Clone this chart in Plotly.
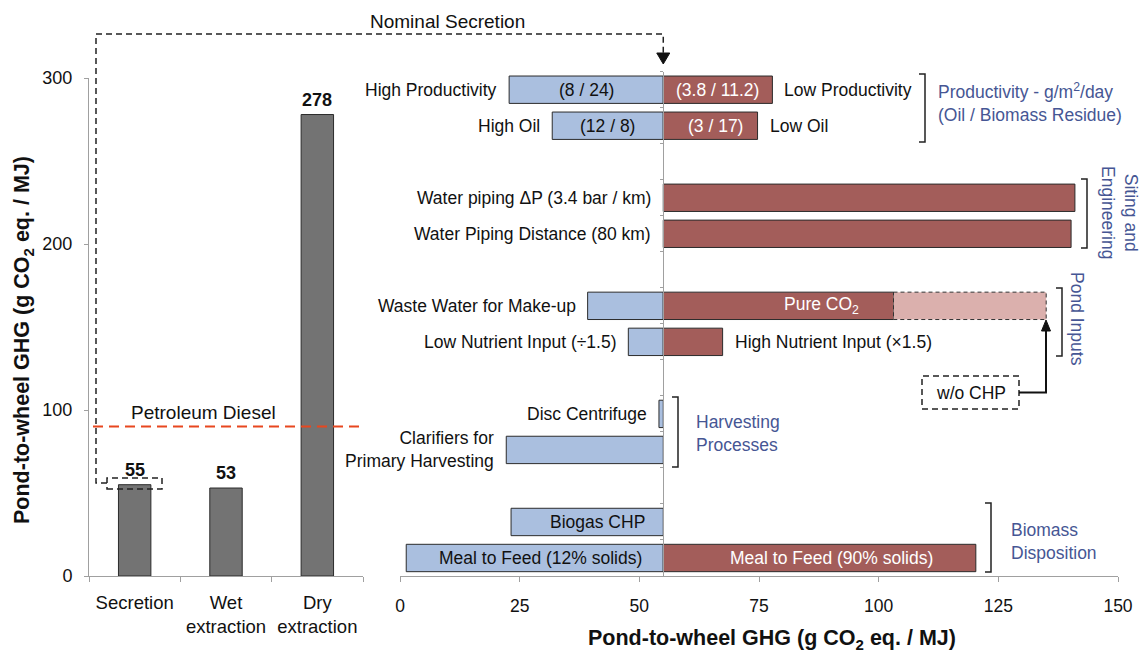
import plotly.graph_objects as go

W, H = 1141, 652

# ---------------- data ----------------
# Left panel: pond-to-wheel GHG by extraction pathway
pathways = ["Secretion", "Wet<br>extraction", "Dry<br>extraction"]
pathway_ghg = [55, 53, 278]
diesel_ghg = 90
y_ticks_left = [0, 100, 200, 300]

# Right panel: sensitivity (tornado) around nominal secretion case
nominal = 55
slots = [0, 1, 3, 4, 6, 7, 9, 10, 12, 13]
low_ghg = [22.8, 31.8, None, None, 39.2, 47.7, 54.1, 22.2, 23.2, 1.3]
high_ghg = [77.8, 74.7, 141.0, 140.2, 103.1, 67.4, None, None, None, 120.3]
pure_co2_wo_chp = 135.0
left_labels = ["High Productivity", "High Oil", "Water piping ΔP (3.4 bar / km)",
               "Water Piping Distance (80 km)", "Waste Water for Make-up",
               "Low Nutrient Input (÷1.5)", "Disc Centrifuge",
               "Clarifiers for<br>Primary Harvesting", "", ""]
low_inside = ["(8 / 24)", "(12 / 8)", "", "", "", "", "", "", "Biogas CHP",
              "Meal to Feed (12% solids)"]
high_inside = ["(3.8 / 11.2)", "(3 / 17)", "", "", "Pure CO<sub>2</sub>", "", "", "", "",
               "Meal to Feed (90% solids)"]
right_labels = ["Low Productivity", "Low Oil", "", "", "", "High Nutrient Input (×1.5)",
                "", "", "", ""]
group_labels = ["Productivity - g/m<sup>2</sup>/day<br>(Oil / Biomass Residue)",
                "Siting and<br>Engineering", "Pond Inputs",
                "Harvesting<br>Processes", "Biomass<br>Disposition"]
x_ticks_right = [0, 25, 50, 75, 100, 125, 150]

# ---------------- styling ----------------
FONT = "Liberation Sans, Arial, Helvetica, sans-serif"
AX = "#a0a0a0"
BLUE = "#aabfdf"
RED = "#a35d5a"
PINK = "#dbb0ad"
GREY = "#737373"
OUT = "#2b2b2b"
GROUP = "#465694"
FS = 17.5
DASH = "6px,4px"


def px(x):
    return x / W


def py(y):
    return 1 - y / H


X0R, X1R = 400, 1118  # pixel extent of right x axis (0..150)
nominal_px = X0R + nominal / 150 * (X1R - X0R)

fig = go.Figure()

# left bars
fig.add_trace(go.Bar(x=pathways, y=pathway_ghg, width=0.355, xaxis="x", yaxis="y",
                     marker=dict(color=GREY, line=dict(color=OUT, width=1)),
                     hoverinfo="skip", showlegend=False))

# tornado: low side (blue)
fig.add_trace(go.Bar(orientation="h", y=slots,
                     x=[(v - nominal) if v is not None else None for v in low_ghg],
                     base=nominal, width=0.76, xaxis="x2", yaxis="y2",
                     marker=dict(color=BLUE, line=dict(color=OUT, width=1)),
                     hoverinfo="skip", showlegend=False))
# tornado: high side (red)
fig.add_trace(go.Bar(orientation="h", y=slots,
                     x=[(v - nominal) if v is not None else None for v in high_ghg],
                     base=nominal, width=0.76, xaxis="x2", yaxis="y2",
                     marker=dict(color=RED, line=dict(color=OUT, width=1)),
                     hoverinfo="skip", showlegend=False))
# Pure CO2 without CHP extension
co2_row = high_inside.index("Pure CO<sub>2</sub>")
fig.add_trace(go.Bar(orientation="h", y=[slots[co2_row]],
                     x=[pure_co2_wo_chp - high_ghg[co2_row]], base=high_ghg[co2_row],
                     width=0.76, xaxis="x2", yaxis="y2",
                     marker=dict(color=PINK, line=dict(width=0)),
                     hoverinfo="skip", showlegend=False))

shapes = []
ann = []

# dashed border of the w/o CHP extension
shapes.append(dict(type="rect", xref="x2", yref="y2", x0=high_ghg[co2_row], x1=pure_co2_wo_chp,
                   y0=slots[co2_row] - 0.38, y1=slots[co2_row] + 0.38,
                   line=dict(color="#333", width=1, dash="4px,3px")))

# petroleum diesel reference
shapes.append(dict(type="line", xref="paper", yref="y", x0=px(93), x1=px(363),
                   y0=diesel_ghg, y1=diesel_ghg,
                   line=dict(color="#e8471f", width=2, dash="10px,6px")))
ann.append(dict(xref="paper", yref="paper", x=px(203), y=py(412), text="Petroleum Diesel",
                showarrow=False, font=dict(size=19, color="#111"), xanchor="center", yanchor="middle"))

# value labels on left bars
for c, v in zip(pathways, pathway_ghg):
    ann.append(dict(xref="x", yref="y", x=c, y=v, text=f"<b>{v}</b>", showarrow=False,
                    yanchor="bottom", yshift=3, font=dict(size=18, color="#111")))

# nominal secretion connector
shapes.append(dict(type="path", xref="paper", yref="paper",
                   path=f"M {px(107)},{py(483)} L {px(96)},{py(483)} L {px(96)},{py(34)} "
                        f"L {px(nominal_px)},{py(34)} L {px(nominal_px)},{py(55)}",
                   line=dict(color="#222", width=1.5, dash=DASH)))
shapes.append(dict(type="rect", xref="paper", yref="paper", x0=px(107), x1=px(162),
                   y0=py(489), y1=py(478), line=dict(color="#222", width=1.5, dash=DASH)))
shapes.append(dict(type="path", xref="paper", yref="paper",
                   path=f"M {px(nominal_px - 6.5)},{py(53)} L {px(nominal_px + 6.5)},{py(53)} "
                        f"L {px(nominal_px)},{py(64)} Z",
                   fillcolor="#111", line=dict(color="#111", width=1)))
ann.append(dict(xref="paper", yref="paper", x=px(447.5), y=py(21), text="Nominal Secretion",
                showarrow=False, font=dict(size=19, color="#111"), xanchor="center", yanchor="middle"))

# tornado labels
inside_shift_low = {"Biogas CHP": 10, "Meal to Feed (12% solids)": 6}
inside_shift_high = {"Pure CO<sub>2</sub>": 43, "Meal to Feed (90% solids)": 12, "(3 / 17)": 5}
for i, s in enumerate(slots):
    lo, hi = low_ghg[i], high_ghg[i]
    if left_labels[i]:
        ann.append(dict(xref="x2", yref="y2", x=lo if lo is not None else nominal, y=s,
                        text=left_labels[i], showarrow=False, xanchor="right", align="right",
                        xshift=-10, font=dict(size=FS, color="#111")))
    if low_inside[i]:
        ann.append(dict(xref="x2", yref="y2", x=(lo + nominal) / 2, y=s, text=low_inside[i],
                        showarrow=False, xanchor="center",
                        xshift=inside_shift_low.get(low_inside[i], 0),
                        font=dict(size=FS, color="#111")))
    if high_inside[i]:
        ann.append(dict(xref="x2", yref="y2", x=(hi + nominal) / 2, y=s, text=high_inside[i],
                        showarrow=False, xanchor="center",
                        xshift=inside_shift_high.get(high_inside[i], 0),
                        font=dict(size=FS, color="white")))
    if right_labels[i]:
        ann.append(dict(xref="x2", yref="y2", x=hi, y=s, text=right_labels[i],
                        showarrow=False, xanchor="left", xshift=10,
                        font=dict(size=FS, color="#111")))

# group brackets and labels
brackets = [(919, 925, 74, 142), (1081, 1087, 179, 248), (1056, 1062, 288, 356),
            (672, 678, 397, 467), (985, 991, 503, 572)]
for (xa, xb, ya, yb) in brackets:
    shapes.append(dict(type="path", xref="paper", yref="paper",
                       path=f"M {px(xa)},{py(ya)} L {px(xb)},{py(ya)} L {px(xb)},{py(yb)} L {px(xa)},{py(yb)}",
                       line=dict(color="#222", width=1.5)))
group_pos = [(936, 102.5, 0, "left"), (1120, 212, 90, "center"), (1077, 319, 90, "center"),
             (694, 433, 0, "left"), (1009, 541.5, 0, "left")]
for txt, (gx, gy, ang, xa) in zip(group_labels, group_pos):
    ann.append(dict(xref="paper", yref="paper", x=px(gx), y=py(gy), text=txt, showarrow=False,
                    textangle=ang, xanchor=xa, yanchor="middle", align="center" if ang else "left",
                    font=dict(size=FS, color=GROUP)))

# w/o CHP callout
shapes.append(dict(type="rect", xref="paper", yref="paper", x0=px(922), x1=px(1019),
                   y0=py(409), y1=py(376), line=dict(color="#222", width=1.5, dash=DASH)))
ann.append(dict(xref="paper", yref="paper", x=px(970.5), y=py(392.5), text="w/o CHP",
                showarrow=False, font=dict(size=FS, color="#111"), xanchor="center", yanchor="middle"))
shapes.append(dict(type="path", xref="paper", yref="paper",
                   path=f"M {px(1019)},{py(392.5)} L {px(1046)},{py(392.5)} L {px(1046)},{py(328)}",
                   line=dict(color="#111", width=2)))
shapes.append(dict(type="path", xref="paper", yref="paper",
                   path=f"M {px(1041.5)},{py(331)} L {px(1050.5)},{py(331)} L {px(1046)},{py(320)} Z",
                   fillcolor="#111", line=dict(color="#111", width=1)))

# axis titles
ann.append(dict(xref="paper", yref="paper", x=px(23), y=py(340), textangle=-90,
                text="<b>Pond-to-wheel GHG (g CO<sub>2</sub> eq. / MJ)</b>", showarrow=False,
                xanchor="center", yanchor="middle", font=dict(size=21.5, color="#111")))
ann.append(dict(xref="paper", yref="paper", x=px(772), y=py(639.5),
                text="<b>Pond-to-wheel GHG (g CO<sub>2</sub> eq. / MJ)</b>", showarrow=False,
                xanchor="center", yanchor="middle", font=dict(size=21.5, color="#111")))

tickfont_left_x = dict(size=18.5, color="#111", family=FONT)
tickfont_left_y = dict(size=18, color="#111", family=FONT)
tickfont_right = dict(size=FS, color="#111", family=FONT)
fig.update_layout(
    template="none",
    width=W, height=H, autosize=False,
    margin=dict(l=0, r=0, t=0, b=0),
    paper_bgcolor="white", plot_bgcolor="rgba(0,0,0,0)",
    font=dict(family=FONT, color="#111"),
    showlegend=False, barmode="overlay",
    xaxis=dict(domain=[px(89), px(363)], anchor="y", type="category", range=[-0.5, 2.5],
               tickson="boundaries", ticks="outside", ticklen=5, tickcolor=AX, showline=True,
               linecolor=AX, linewidth=1, showgrid=False, zeroline=False, automargin=False,
               tickfont=tickfont_left_x, ticklabelstandoff=10),
    yaxis=dict(domain=[py(576), py(78)], anchor="x", range=[0, 300], tickvals=y_ticks_left,
               ticks="outside", ticklen=4, tickcolor=AX, showline=True, linecolor=AX,
               linewidth=1, showgrid=False, zeroline=False, automargin=False,
               tickfont=tickfont_left_y, ticklabelstandoff=8),
    xaxis2=dict(domain=[px(X0R), px(X1R)], anchor="y2", range=[0, 150], tickvals=x_ticks_right,
                ticks="outside", ticklen=5, tickcolor=AX, showline=True, linecolor=AX,
                linewidth=1, showgrid=False, zeroline=False, automargin=False,
                tickfont=tickfont_right, ticklabelstandoff=9),
    yaxis2=dict(domain=[py(576), py(71.7)], anchor="free", position=px(nominal_px),
                range=[13.5, -0.5], tickvals=[k - 0.5 for k in range(15)], ticks="outside",
                ticklen=3, tickcolor=AX, showticklabels=False, showline=True, linecolor=AX,
                linewidth=1, showgrid=False, zeroline=False, automargin=False),
    shapes=shapes, annotations=ann,
)

fig.write_html("out.html")
